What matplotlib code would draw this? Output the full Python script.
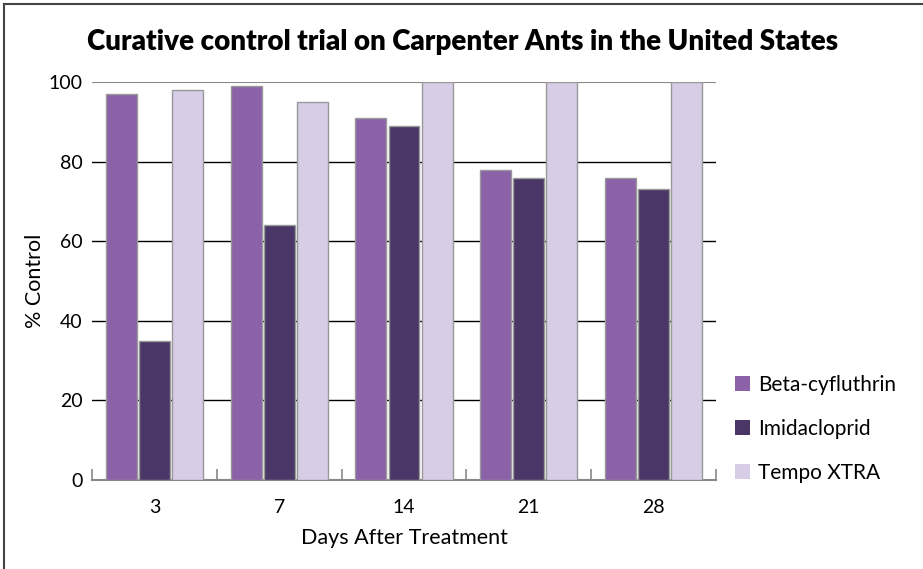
import matplotlib
matplotlib.use("Agg")
import matplotlib.pyplot as plt
import numpy as np
from matplotlib.lines import Line2D
from matplotlib.patches import Patch

days = ["3", "7", "14", "21", "28"]
series_names = ["Beta-cyfluthrin", "Imidacloprid", "Tempo XTRA"]
beta = [97, 99, 91, 78, 76]
imid = [35, 64, 89, 76, 73]
tempo = [98, 95, 100, 100, 100]
colors = ["#8B62A8", "#4B3767", "#D7CDE6"]
yticks = [0, 20, 40, 60, 80, 100]

plt.rcParams['font.family'] = ['Lato', 'DejaVu Sans']

W, H = 923, 569
fig = plt.figure(figsize=(W/100, H/100), dpi=100)
ax = fig.add_axes([92/W, 1-480/H, (716-92)/W, (480-82)/H])

x = np.arange(len(days))
bw = 0.248
off = 0.265
for i, (vals, c, name) in enumerate(zip([beta, imid, tempo], colors, series_names)):
    ax.bar(x + (i-1)*off, vals, width=bw, color=c, edgecolor="#999999",
           linewidth=1, label=name, zorder=3)

ax.set_xlim(-0.5, len(days)-0.5)
ax.set_ylim(0, 100)
ax.set_yticks(yticks)
ax.set_yticklabels([str(v) for v in yticks], fontsize=14)
for v in yticks[1:-1]:
    ax.axhline(v, color="black", linewidth=1, zorder=1)
ax.axhline(100, color="#888888", linewidth=1.5, zorder=1)
ax.tick_params(axis='y', length=0, pad=7)

ax.set_xticks(x)
ax.set_xticklabels(days, fontsize=14)
ax.set_xticks(np.arange(-0.5, len(days), 1.0), minor=True)
ax.tick_params(axis='x', which='major', length=0, pad=14)
ax.tick_params(axis='x', which='minor', direction='in', length=8, color="#888888", width=1.2)

for s in ['top', 'right', 'left']:
    ax.spines[s].set_visible(False)
ax.spines['bottom'].set_color("#888888")
ax.spines['bottom'].set_linewidth(1.5)

ax.set_xlabel("Days After Treatment", fontsize=15.5, labelpad=8)
ax.set_ylabel("% Control", fontsize=15.5, labelpad=2)

fig.text(463/W, 1-42/H, "Curative control trial on Carpenter Ants in the United States",
         ha='center', va='center', fontsize=20, fontweight='heavy')

handles = [Patch(facecolor=c, edgecolor='none') for c in colors]
fig.legend(handles, series_names, loc='center left', bbox_to_anchor=(716/W, 1-429/H), frameon=False,
           fontsize=15, handlelength=0.75, handleheight=0.75, handletextpad=0.35,
           labelspacing=1.15)

# figure border (top and left)
fig.add_artist(Line2D([3.5/W, 1], [1-4/H, 1-4/H], color="#444444", linewidth=1.5, transform=fig.transFigure))
fig.add_artist(Line2D([3.5/W, 3.5/W], [0, 1-4/H], color="#444444", linewidth=1.5, transform=fig.transFigure))

fig.savefig("out.png", dpi=100, facecolor="white")
